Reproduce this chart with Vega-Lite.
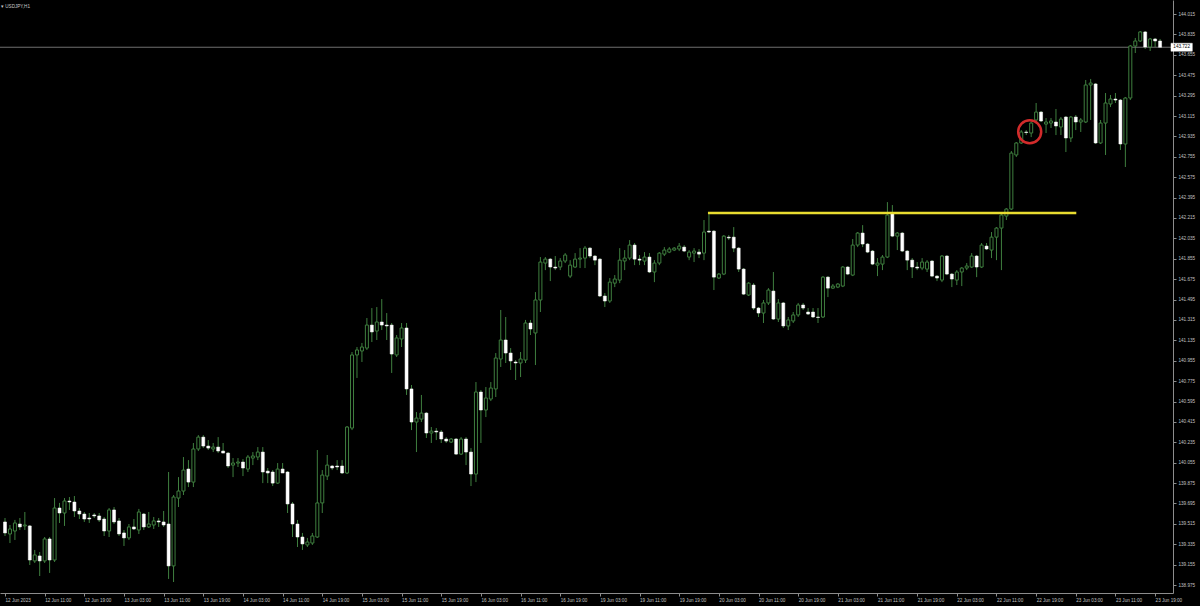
{
  "$schema": "https://vega.github.io/schema/vega-lite/v6.json",
  "width": 1173,
  "height": 593,
  "autosize": {"type": "none"},
  "padding": {"left": 0, "top": 0, "right": 27, "bottom": 13},
  "background": "#000000",
  "title": {"text": "▾ USDJPY,H1", "anchor": "start", "frame": "group", "orient": "top", "offset": -8, "dy": 6, "baseline": "bottom", "fontSize": 4.6, "font": "Liberation Sans", "fontWeight": "normal", "color": "#c8c8c8", "dx": 1},
  "config": {
    "view": {"stroke": null},
    "axis": {"labelFont": "Liberation Sans", "labelFontSize": 4.6, "labelColor": "#c0c0c0", "domainColor": "#8c8c8c", "tickColor": "#8c8c8c", "grid": false, "tickSize": 3, "domainWidth": 1, "tickWidth": 1, "labelOverlap": false, "labelSeparation": 0, "labelBound": false}
  },
  "datasets": {
    "candles": [
      {"i":0,"o":139.532,"h":139.567,"l":139.408,"c":139.435},
      {"i":1,"o":139.426,"h":139.505,"l":139.346,"c":139.470},
      {"i":2,"o":139.452,"h":139.550,"l":139.373,"c":139.523},
      {"i":3,"o":139.514,"h":139.567,"l":139.461,"c":139.488},
      {"i":4,"o":139.497,"h":139.620,"l":139.461,"c":139.505},
      {"i":5,"o":139.497,"h":139.505,"l":139.152,"c":139.196},
      {"i":6,"o":139.188,"h":139.285,"l":139.170,"c":139.241},
      {"i":7,"o":139.232,"h":139.267,"l":139.055,"c":139.188},
      {"i":8,"o":139.188,"h":139.399,"l":139.170,"c":139.382},
      {"i":9,"o":139.382,"h":139.399,"l":139.082,"c":139.196},
      {"i":10,"o":139.196,"h":139.743,"l":139.179,"c":139.655},
      {"i":11,"o":139.655,"h":139.700,"l":139.523,"c":139.611},
      {"i":12,"o":139.611,"h":139.743,"l":139.497,"c":139.717},
      {"i":13,"o":139.717,"h":139.752,"l":139.638,"c":139.708},
      {"i":14,"o":139.708,"h":139.761,"l":139.576,"c":139.629},
      {"i":15,"o":139.629,"h":139.655,"l":139.558,"c":139.602},
      {"i":16,"o":139.602,"h":139.620,"l":139.532,"c":139.558},
      {"i":17,"o":139.567,"h":139.611,"l":139.523,"c":139.558},
      {"i":18,"o":139.594,"h":139.611,"l":139.567,"c":139.585},
      {"i":19,"o":139.585,"h":139.611,"l":139.532,"c":139.550},
      {"i":20,"o":139.558,"h":139.576,"l":139.408,"c":139.452},
      {"i":21,"o":139.452,"h":139.655,"l":139.399,"c":139.638},
      {"i":22,"o":139.638,"h":139.664,"l":139.514,"c":139.532},
      {"i":23,"o":139.541,"h":139.567,"l":139.408,"c":139.426},
      {"i":24,"o":139.435,"h":139.461,"l":139.320,"c":139.391},
      {"i":25,"o":139.391,"h":139.514,"l":139.373,"c":139.488},
      {"i":26,"o":139.488,"h":139.558,"l":139.461,"c":139.470},
      {"i":27,"o":139.461,"h":139.647,"l":139.426,"c":139.620},
      {"i":28,"o":139.602,"h":139.611,"l":139.461,"c":139.488},
      {"i":29,"o":139.488,"h":139.620,"l":139.479,"c":139.514},
      {"i":30,"o":139.505,"h":139.576,"l":139.470,"c":139.541},
      {"i":31,"o":139.541,"h":139.567,"l":139.488,"c":139.532},
      {"i":32,"o":139.532,"h":139.629,"l":139.488,"c":139.505},
      {"i":33,"o":139.514,"h":139.973,"l":139.029,"c":139.144},
      {"i":34,"o":139.144,"h":139.770,"l":139.002,"c":139.752},
      {"i":35,"o":139.743,"h":139.928,"l":139.664,"c":139.805},
      {"i":36,"o":139.805,"h":140.105,"l":139.770,"c":139.990},
      {"i":37,"o":139.999,"h":140.078,"l":139.840,"c":139.884},
      {"i":38,"o":139.884,"h":140.229,"l":139.840,"c":140.176},
      {"i":39,"o":140.176,"h":140.299,"l":140.158,"c":140.281},
      {"i":40,"o":140.281,"h":140.299,"l":140.184,"c":140.202},
      {"i":41,"o":140.202,"h":140.255,"l":140.167,"c":140.184},
      {"i":42,"o":140.176,"h":140.229,"l":140.149,"c":140.193},
      {"i":43,"o":140.193,"h":140.281,"l":140.140,"c":140.158},
      {"i":44,"o":140.158,"h":140.229,"l":140.140,"c":140.140},
      {"i":45,"o":140.140,"h":140.149,"l":140.008,"c":140.026},
      {"i":46,"o":140.034,"h":140.096,"l":139.928,"c":140.052},
      {"i":47,"o":140.052,"h":140.096,"l":140.017,"c":140.061},
      {"i":48,"o":140.061,"h":140.087,"l":139.937,"c":140.008},
      {"i":49,"o":139.999,"h":140.123,"l":139.973,"c":140.105},
      {"i":50,"o":140.096,"h":140.149,"l":140.034,"c":140.114},
      {"i":51,"o":140.105,"h":140.193,"l":140.078,"c":140.149},
      {"i":52,"o":140.149,"h":140.193,"l":139.875,"c":139.973},
      {"i":53,"o":139.981,"h":140.008,"l":139.875,"c":139.964},
      {"i":54,"o":139.973,"h":139.990,"l":139.849,"c":139.875},
      {"i":55,"o":139.875,"h":140.052,"l":139.867,"c":139.999},
      {"i":56,"o":139.999,"h":140.052,"l":139.964,"c":139.964},
      {"i":57,"o":139.973,"h":139.981,"l":139.611,"c":139.691},
      {"i":58,"o":139.691,"h":139.708,"l":139.399,"c":139.514},
      {"i":59,"o":139.514,"h":139.550,"l":139.311,"c":139.399},
      {"i":60,"o":139.399,"h":139.435,"l":139.285,"c":139.338},
      {"i":61,"o":139.329,"h":139.391,"l":139.311,"c":139.355},
      {"i":62,"o":139.346,"h":139.435,"l":139.329,"c":139.408},
      {"i":63,"o":139.399,"h":140.167,"l":139.391,"c":139.700},
      {"i":64,"o":139.700,"h":139.990,"l":139.611,"c":139.946},
      {"i":65,"o":139.937,"h":140.123,"l":139.902,"c":140.034},
      {"i":66,"o":140.026,"h":140.034,"l":139.990,"c":140.008},
      {"i":67,"o":140.026,"h":140.078,"l":139.990,"c":140.017},
      {"i":68,"o":140.026,"h":140.078,"l":139.955,"c":139.964},
      {"i":69,"o":139.964,"h":140.379,"l":139.955,"c":140.370},
      {"i":70,"o":140.361,"h":141.032,"l":140.343,"c":141.006},
      {"i":71,"o":141.006,"h":141.076,"l":140.803,"c":141.050},
      {"i":72,"o":141.041,"h":141.112,"l":140.944,"c":141.076},
      {"i":73,"o":141.067,"h":141.332,"l":141.050,"c":141.270},
      {"i":74,"o":141.270,"h":141.420,"l":141.120,"c":141.209},
      {"i":75,"o":141.217,"h":141.429,"l":141.138,"c":141.297},
      {"i":76,"o":141.297,"h":141.499,"l":141.226,"c":141.270},
      {"i":77,"o":141.270,"h":141.376,"l":141.138,"c":141.262},
      {"i":78,"o":141.270,"h":141.288,"l":140.847,"c":141.014},
      {"i":79,"o":141.006,"h":141.182,"l":140.988,"c":141.156},
      {"i":80,"o":141.147,"h":141.288,"l":141.076,"c":141.244},
      {"i":81,"o":141.244,"h":141.288,"l":140.653,"c":140.706},
      {"i":82,"o":140.706,"h":140.741,"l":140.343,"c":140.414},
      {"i":83,"o":140.414,"h":140.502,"l":140.149,"c":140.449},
      {"i":84,"o":140.440,"h":140.653,"l":140.414,"c":140.493},
      {"i":85,"o":140.493,"h":140.502,"l":140.273,"c":140.317},
      {"i":86,"o":140.317,"h":140.370,"l":140.229,"c":140.334},
      {"i":87,"o":140.334,"h":140.361,"l":140.255,"c":140.326},
      {"i":88,"o":140.326,"h":140.343,"l":140.229,"c":140.264},
      {"i":89,"o":140.264,"h":140.281,"l":140.229,"c":140.246},
      {"i":90,"o":140.237,"h":140.273,"l":140.229,"c":140.264},
      {"i":91,"o":140.264,"h":140.273,"l":140.123,"c":140.131},
      {"i":92,"o":140.131,"h":140.281,"l":140.123,"c":140.264},
      {"i":93,"o":140.264,"h":140.281,"l":140.034,"c":140.149},
      {"i":94,"o":140.149,"h":140.184,"l":139.849,"c":139.955},
      {"i":95,"o":139.955,"h":140.767,"l":139.884,"c":140.679},
      {"i":96,"o":140.679,"h":140.697,"l":140.229,"c":140.520},
      {"i":97,"o":140.520,"h":140.723,"l":140.458,"c":140.626},
      {"i":98,"o":140.617,"h":140.767,"l":140.599,"c":140.714},
      {"i":99,"o":140.706,"h":141.023,"l":140.635,"c":140.979},
      {"i":100,"o":140.970,"h":141.403,"l":140.900,"c":141.138},
      {"i":101,"o":141.138,"h":141.341,"l":140.935,"c":141.023},
      {"i":102,"o":141.023,"h":141.067,"l":140.873,"c":140.953},
      {"i":103,"o":140.944,"h":140.961,"l":140.785,"c":140.935},
      {"i":104,"o":140.935,"h":141.032,"l":140.811,"c":140.970},
      {"i":105,"o":140.961,"h":141.315,"l":140.935,"c":141.288},
      {"i":106,"o":141.288,"h":141.315,"l":141.182,"c":141.235},
      {"i":107,"o":141.200,"h":141.561,"l":140.917,"c":141.491},
      {"i":108,"o":141.491,"h":141.870,"l":141.385,"c":141.826},
      {"i":109,"o":141.817,"h":141.870,"l":141.755,"c":141.852},
      {"i":110,"o":141.852,"h":141.861,"l":141.658,"c":141.782},
      {"i":111,"o":141.782,"h":141.879,"l":141.755,"c":141.773},
      {"i":112,"o":141.782,"h":141.861,"l":141.755,"c":141.835},
      {"i":113,"o":141.835,"h":141.905,"l":141.817,"c":141.888},
      {"i":114,"o":141.702,"h":141.843,"l":141.685,"c":141.799},
      {"i":115,"o":141.782,"h":141.905,"l":141.773,"c":141.852},
      {"i":116,"o":141.852,"h":141.949,"l":141.773,"c":141.861},
      {"i":117,"o":141.861,"h":141.967,"l":141.773,"c":141.949},
      {"i":118,"o":141.949,"h":141.958,"l":141.861,"c":141.879},
      {"i":119,"o":141.879,"h":141.888,"l":141.799,"c":141.843},
      {"i":120,"o":141.852,"h":141.861,"l":141.517,"c":141.526},
      {"i":121,"o":141.526,"h":141.552,"l":141.429,"c":141.482},
      {"i":122,"o":141.482,"h":141.685,"l":141.465,"c":141.649},
      {"i":123,"o":141.640,"h":141.711,"l":141.605,"c":141.676},
      {"i":124,"o":141.667,"h":141.949,"l":141.640,"c":141.843},
      {"i":125,"o":141.835,"h":141.932,"l":141.755,"c":141.861},
      {"i":126,"o":141.861,"h":142.020,"l":141.843,"c":141.976},
      {"i":127,"o":141.976,"h":141.994,"l":141.799,"c":141.852},
      {"i":128,"o":141.852,"h":141.888,"l":141.799,"c":141.843},
      {"i":129,"o":141.835,"h":141.914,"l":141.799,"c":141.870},
      {"i":130,"o":141.870,"h":141.905,"l":141.729,"c":141.738},
      {"i":131,"o":141.738,"h":141.843,"l":141.649,"c":141.817},
      {"i":132,"o":141.817,"h":141.914,"l":141.799,"c":141.905},
      {"i":133,"o":141.896,"h":141.958,"l":141.879,"c":141.932},
      {"i":134,"o":141.914,"h":141.958,"l":141.905,"c":141.941},
      {"i":135,"o":141.932,"h":141.958,"l":141.923,"c":141.949},
      {"i":136,"o":141.941,"h":141.994,"l":141.923,"c":141.967},
      {"i":137,"o":141.958,"h":141.976,"l":141.914,"c":141.923},
      {"i":138,"o":141.870,"h":141.932,"l":141.843,"c":141.914},
      {"i":139,"o":141.905,"h":141.949,"l":141.826,"c":141.923},
      {"i":140,"o":141.914,"h":141.941,"l":141.861,"c":141.896},
      {"i":141,"o":141.905,"h":142.197,"l":141.843,"c":142.091},
      {"i":142,"o":142.099,"h":142.249,"l":142.082,"c":142.091},
      {"i":143,"o":142.099,"h":142.108,"l":141.579,"c":141.693},
      {"i":144,"o":141.685,"h":141.729,"l":141.676,"c":141.720},
      {"i":145,"o":141.720,"h":142.064,"l":141.711,"c":142.055},
      {"i":146,"o":142.046,"h":142.064,"l":142.020,"c":142.038},
      {"i":147,"o":142.046,"h":142.135,"l":141.914,"c":141.949},
      {"i":148,"o":141.949,"h":141.958,"l":141.738,"c":141.764},
      {"i":149,"o":141.764,"h":141.773,"l":141.535,"c":141.543},
      {"i":150,"o":141.535,"h":141.649,"l":141.526,"c":141.640},
      {"i":151,"o":141.623,"h":141.640,"l":141.403,"c":141.420},
      {"i":152,"o":141.420,"h":141.429,"l":141.341,"c":141.376},
      {"i":153,"o":141.376,"h":141.491,"l":141.288,"c":141.465},
      {"i":154,"o":141.465,"h":141.596,"l":141.447,"c":141.579},
      {"i":155,"o":141.570,"h":141.738,"l":141.315,"c":141.323},
      {"i":156,"o":141.323,"h":141.499,"l":141.297,"c":141.465},
      {"i":157,"o":141.465,"h":141.473,"l":141.244,"c":141.262},
      {"i":158,"o":141.262,"h":141.341,"l":141.226,"c":141.315},
      {"i":159,"o":141.306,"h":141.385,"l":141.288,"c":141.359},
      {"i":160,"o":141.359,"h":141.465,"l":141.341,"c":141.447},
      {"i":161,"o":141.447,"h":141.465,"l":141.403,"c":141.420},
      {"i":162,"o":141.385,"h":141.420,"l":141.359,"c":141.367},
      {"i":163,"o":141.385,"h":141.420,"l":141.332,"c":141.341},
      {"i":164,"o":141.341,"h":141.420,"l":141.288,"c":141.337},
      {"i":165,"o":141.341,"h":141.702,"l":141.332,"c":141.693},
      {"i":166,"o":141.693,"h":141.702,"l":141.517,"c":141.596},
      {"i":167,"o":141.596,"h":141.632,"l":141.588,"c":141.614},
      {"i":168,"o":141.605,"h":141.640,"l":141.596,"c":141.632},
      {"i":169,"o":141.614,"h":141.791,"l":141.605,"c":141.782},
      {"i":170,"o":141.782,"h":141.791,"l":141.711,"c":141.720},
      {"i":171,"o":141.711,"h":142.029,"l":141.702,"c":141.976},
      {"i":172,"o":141.976,"h":142.091,"l":141.958,"c":142.082},
      {"i":173,"o":142.082,"h":142.152,"l":141.958,"c":141.985},
      {"i":174,"o":141.985,"h":141.994,"l":141.905,"c":141.914},
      {"i":175,"o":141.923,"h":141.932,"l":141.799,"c":141.808},
      {"i":176,"o":141.799,"h":141.861,"l":141.702,"c":141.817},
      {"i":177,"o":141.808,"h":141.888,"l":141.755,"c":141.870},
      {"i":178,"o":141.870,"h":142.355,"l":141.861,"c":142.241},
      {"i":179,"o":142.258,"h":142.329,"l":142.046,"c":142.055},
      {"i":180,"o":142.055,"h":142.091,"l":141.932,"c":142.082},
      {"i":181,"o":142.082,"h":142.091,"l":141.914,"c":141.923},
      {"i":182,"o":141.923,"h":141.932,"l":141.755,"c":141.843},
      {"i":183,"o":141.843,"h":141.861,"l":141.685,"c":141.782},
      {"i":184,"o":141.782,"h":141.826,"l":141.755,"c":141.773},
      {"i":185,"o":141.773,"h":141.861,"l":141.755,"c":141.826},
      {"i":186,"o":141.764,"h":141.843,"l":141.738,"c":141.826},
      {"i":187,"o":141.835,"h":141.843,"l":141.693,"c":141.702},
      {"i":188,"o":141.702,"h":141.711,"l":141.658,"c":141.685},
      {"i":189,"o":141.667,"h":141.888,"l":141.649,"c":141.879},
      {"i":190,"o":141.879,"h":141.888,"l":141.711,"c":141.720},
      {"i":191,"o":141.720,"h":141.729,"l":141.605,"c":141.676},
      {"i":192,"o":141.667,"h":141.755,"l":141.623,"c":141.738},
      {"i":193,"o":141.738,"h":141.782,"l":141.614,"c":141.773},
      {"i":194,"o":141.773,"h":141.817,"l":141.755,"c":141.791},
      {"i":195,"o":141.782,"h":141.905,"l":141.773,"c":141.879},
      {"i":196,"o":141.879,"h":141.888,"l":141.693,"c":141.782},
      {"i":197,"o":141.782,"h":141.994,"l":141.773,"c":141.976},
      {"i":198,"o":141.967,"h":141.994,"l":141.932,"c":141.941},
      {"i":199,"o":141.932,"h":142.091,"l":141.861,"c":142.046},
      {"i":200,"o":142.046,"h":142.135,"l":141.843,"c":142.126},
      {"i":201,"o":142.126,"h":142.258,"l":141.755,"c":142.241},
      {"i":202,"o":142.232,"h":142.302,"l":142.197,"c":142.294},
      {"i":203,"o":142.294,"h":142.806,"l":142.285,"c":142.788},
      {"i":204,"o":142.771,"h":142.885,"l":142.753,"c":142.877},
      {"i":205,"o":142.877,"h":142.991,"l":142.868,"c":142.974},
      {"i":206,"o":142.974,"h":142.991,"l":142.947,"c":142.969},
      {"i":207,"o":142.965,"h":143.062,"l":142.929,"c":143.053},
      {"i":208,"o":143.080,"h":143.230,"l":143.071,"c":143.150},
      {"i":209,"o":143.150,"h":143.159,"l":143.062,"c":143.071},
      {"i":210,"o":143.044,"h":143.097,"l":142.965,"c":143.062},
      {"i":211,"o":143.053,"h":143.097,"l":143.009,"c":143.071},
      {"i":212,"o":143.062,"h":143.177,"l":142.947,"c":143.027},
      {"i":213,"o":143.018,"h":143.106,"l":142.947,"c":143.088},
      {"i":214,"o":143.106,"h":143.115,"l":142.797,"c":142.921},
      {"i":215,"o":142.921,"h":143.115,"l":142.885,"c":143.106},
      {"i":216,"o":143.106,"h":143.124,"l":142.991,"c":143.062},
      {"i":217,"o":143.062,"h":143.097,"l":142.974,"c":143.080},
      {"i":218,"o":143.062,"h":143.433,"l":143.053,"c":143.389},
      {"i":219,"o":143.389,"h":143.442,"l":143.080,"c":143.406},
      {"i":220,"o":143.398,"h":143.406,"l":142.868,"c":142.877},
      {"i":221,"o":142.877,"h":143.080,"l":142.868,"c":143.053},
      {"i":222,"o":143.053,"h":143.318,"l":142.771,"c":143.230},
      {"i":223,"o":143.221,"h":143.301,"l":143.194,"c":143.265},
      {"i":224,"o":143.265,"h":143.318,"l":143.230,"c":143.256},
      {"i":225,"o":143.256,"h":143.265,"l":142.815,"c":142.868},
      {"i":226,"o":142.868,"h":143.283,"l":142.665,"c":143.274},
      {"i":227,"o":143.274,"h":143.742,"l":143.256,"c":143.733},
      {"i":228,"o":143.733,"h":143.804,"l":143.671,"c":143.777},
      {"i":229,"o":143.777,"h":143.865,"l":143.768,"c":143.857},
      {"i":230,"o":143.857,"h":143.865,"l":143.707,"c":143.724},
      {"i":231,"o":143.724,"h":143.804,"l":143.689,"c":143.795},
      {"i":232,"o":143.795,"h":143.804,"l":143.724,"c":143.777},
      {"i":233,"o":143.777,"h":143.795,"l":143.724,"c":143.722}
    ],
    "level": [{"from": 141.8, "to": 216.1, "price": 142.258}],
    "circle": [{"bar": 206.7, "price": 142.976}],
    "last": [{"x1": 235.2, "x2": 239.5, "top": 143.757, "bottom": 143.687, "mid": 237.35, "price": 143.722, "label": "143.722"}]
  },
  "layer": [
    {
      "data": {"name": "candles"},
      "mark": {"type": "rule", "color": "#3f7f3f", "strokeWidth": 1},
      "encoding": {
        "x": {"field": "i", "type": "quantitative", "scale": {"domain": [0, 234.6], "nice": false, "zero": false},
          "axis": {"title": null, "orient": "bottom", "tickCount": 100, "values": [0,8,16,24,32,40,48,56,64,72,80,88,96,104,112,120,128,136,144,152,160,168,176,184,192,200,208,216,224,232],
            "labelAlign": "left", "labelPadding": 1, "labelFlush": false, "labelOverlap": false,
            "labelExpr": "['12 Jun 2023','12 Jun 11:00','12 Jun 19:00','13 Jun 03:00','13 Jun 11:00','13 Jun 19:00','14 Jun 03:00','14 Jun 11:00','14 Jun 19:00','15 Jun 03:00','15 Jun 11:00','15 Jun 19:00','16 Jun 03:00','16 Jun 11:00','16 Jun 19:00','19 Jun 03:00','19 Jun 11:00','19 Jun 19:00','20 Jun 03:00','20 Jun 11:00','20 Jun 19:00','21 Jun 03:00','21 Jun 11:00','21 Jun 19:00','22 Jun 03:00','22 Jun 11:00','22 Jun 19:00','23 Jun 03:00','23 Jun 11:00','23 Jun 19:00'][round(datum.value/8)]"}},
        "y": {"field": "l", "type": "quantitative", "scale": {"domain": [138.905, 144.139], "nice": false, "zero": false},
          "axis": {"title": null, "orient": "right", "tickCount": 100, "values": [138.975,139.155,139.335,139.515,139.695,139.875,140.055,140.235,140.415,140.595,140.775,140.955,141.135,141.315,141.495,141.675,141.855,142.035,142.215,142.395,142.575,142.755,142.935,143.115,143.295,143.475,143.655,143.835,144.015],
            "format": ".3f", "labelPadding": 2, "labelOverlap": false, "labelFlush": false, "labelSeparation": 0}},
        "y2": {"field": "h"}
      }
    },
    {
      "data": {"name": "last"},
      "mark": {"type": "rule", "color": "#707070", "strokeWidth": 1},
      "encoding": {
        "y": {"field": "price", "type": "quantitative", "scale": {"domain": [138.905, 144.139], "nice": false, "zero": false}, "axis": {"title": null}}
      }
    },
    {
      "data": {"name": "candles"},
      "mark": {"type": "bar", "size": 3, "orient": "vertical"},
      "encoding": {
        "x": {"field": "i", "type": "quantitative", "scale": {"domain": [0, 234.6], "nice": false, "zero": false}, "axis": {"title": null}},
        "y": {"field": "o", "type": "quantitative", "scale": {"domain": [138.905, 144.139], "nice": false, "zero": false}, "axis": {"title": null}},
        "y2": {"field": "c"},
        "fill": {"condition": {"test": "datum.c < datum.o", "value": "#ffffff"}, "value": "#000000"},
        "stroke": {"condition": {"test": "datum.c < datum.o", "value": "#ffffff"}, "value": "#3f7f3f"},
        "strokeWidth": {"condition": {"test": "datum.c < datum.o", "value": 0.5}, "value": 1}
      }
    },
    {
      "data": {"name": "level"},
      "mark": {"type": "rule", "color": "#e8dc30", "strokeWidth": 2.5},
      "encoding": {
        "x": {"field": "from", "type": "quantitative", "scale": {"domain": [0, 234.6], "nice": false, "zero": false}, "axis": {"title": null}},
        "x2": {"field": "to"},
        "y": {"field": "price", "type": "quantitative", "scale": {"domain": [138.905, 144.139], "nice": false, "zero": false}, "axis": {"title": null}}
      }
    },
    {
      "data": {"name": "circle"},
      "mark": {"type": "point", "shape": "circle", "filled": false, "size": 530, "stroke": "#d22b2b", "strokeWidth": 2.5, "opacity": 1},
      "encoding": {
        "x": {"field": "bar", "type": "quantitative", "scale": {"domain": [0, 234.6], "nice": false, "zero": false}, "axis": {"title": null}},
        "y": {"field": "price", "type": "quantitative", "scale": {"domain": [138.905, 144.139], "nice": false, "zero": false}, "axis": {"title": null}}
      }
    },
    {
      "data": {"name": "last"},
      "mark": {"type": "rect", "fill": "#ffffff", "stroke": "#ffffff", "strokeWidth": 0.5},
      "encoding": {
        "x": {"field": "x1", "type": "quantitative", "scale": {"domain": [0, 234.6], "nice": false, "zero": false}, "axis": {"title": null}},
        "x2": {"field": "x2"},
        "y": {"field": "top", "type": "quantitative", "scale": {"domain": [138.905, 144.139], "nice": false, "zero": false}, "axis": {"title": null}},
        "y2": {"field": "bottom"}
      }
    },
    {
      "data": {"name": "last"},
      "mark": {"type": "text", "font": "Liberation Sans", "fontSize": 4.6, "color": "#000000", "align": "center", "baseline": "middle"},
      "encoding": {
        "x": {"field": "mid", "type": "quantitative", "scale": {"domain": [0, 234.6], "nice": false, "zero": false}, "axis": {"title": null}},
        "y": {"field": "price", "type": "quantitative", "scale": {"domain": [138.905, 144.139], "nice": false, "zero": false}, "axis": {"title": null}},
        "text": {"field": "label"}
      }
    }
  ]
}
